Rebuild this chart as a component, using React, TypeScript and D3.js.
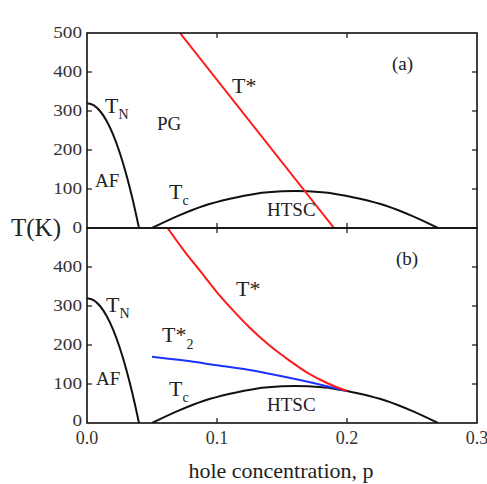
import React from "react";
import * as d3 from "d3";

// ---- data ----
const xTicks = [0.0, 0.1, 0.2, 0.3];
const xTickLabels = ["0.0", "0.1", "0.2", "0.3"];
const yTicksTop = [0, 100, 200, 300, 400, 500];
const yTicksBottom = [0, 100, 200, 300, 400];

// Neel temperature (both panels)
const tnP = [0, 0.005, 0.01, 0.015, 0.02, 0.025, 0.03, 0.035, 0.04];
const tnT = [320, 315, 300, 275, 240, 195, 140, 75, 0];

// Superconducting dome (both panels)
const tcP = [0.05, 0.07, 0.09, 0.11, 0.13, 0.15, 0.16, 0.17, 0.19, 0.21, 0.23, 0.25, 0.27];
const tcT = [0, 31, 57, 75, 88, 94, 95, 94, 88, 75, 57, 31, 0];

// T* panel (a): straight line
const tStarAP = [0.0715, 0.19];
const tStarAT = [500, 0];

// T* panel (b): curved
const tStarBP = [0.062, 0.075, 0.087, 0.1, 0.112, 0.125, 0.14, 0.155, 0.17, 0.185, 0.2];
const tStarBT = [500, 440, 390, 335, 290, 245, 200, 162, 128, 102, 82];

// T*2 panel (b)
const tStar2P = [0.05, 0.075, 0.1, 0.125, 0.15, 0.175, 0.2];
const tStar2T = [170, 160, 148, 136, 120, 102, 82];

const W = 487;
const H = 484;

export default function App() {
  const x = d3.scaleLinear().domain([0, 0.3]).range([87, 477]);
  const yA = d3.scaleLinear().domain([0, 500]).range([228, 33]);
  const yB = d3.scaleLinear().domain([0, 500]).range([423, 228]);

  const mk = (ys: d3.ScaleLinear<number, number>, ps: number[], ts: number[], curve: any) =>
    d3
      .line<number>()
      .x((_, i) => x(ps[i]))
      .y((_, i) => ys(ts[i]))
      .curve(curve)(ps) as string;

  const serif = "'Liberation Serif', 'DejaVu Serif', serif";
  const tickLen = 5;
  const axisCol = "#111";
  const labCol = "#333";

  const panel = (ys: d3.ScaleLinear<number, number>, yTicks: number[], key: string) => {
    const [y0, y1] = [ys(0), ys(500)];
    return (
      <g key={key}>
        {yTicks
          .filter((t) => t > 0 && t < 500)
          .map((t) => (
            <g key={"yt" + t}>
              <line x1={x(0)} x2={x(0) + tickLen} y1={ys(t)} y2={ys(t)} stroke={axisCol} strokeWidth={1.2} />
              <line x1={x(0.3)} x2={x(0.3) - tickLen} y1={ys(t)} y2={ys(t)} stroke={axisCol} strokeWidth={1.2} />
            </g>
          ))}
        {xTicks
          .filter((t) => t > 0 && t < 0.3)
          .map((t) => (
            <g key={"xt" + t}>
              <line x1={x(t)} x2={x(t)} y1={y1} y2={y1 + tickLen} stroke={axisCol} strokeWidth={1.2} />
              <line x1={x(t)} x2={x(t)} y1={y0} y2={y0 - tickLen} stroke={axisCol} strokeWidth={1.2} />
            </g>
          ))}
        {yTicks.map((t) => (
          <g key={"yl" + t} transform={`translate(${x(0) - 5},${ys(t) + (key === "b" && t === 0 ? -2 : 0)}) scale(1.2,1)`}>
            <text
              x={0}
              y={0}
              textAnchor="end"
              dominantBaseline="central"
              fontFamily={serif}
              fontSize={16}
              fill={labCol}
            >
              {t}
            </text>
          </g>
        ))}
        <rect x={x(0)} y={y1} width={x(0.3) - x(0)} height={y0 - y1} fill="none" stroke={axisCol} strokeWidth={1.6} />
      </g>
    );
  };

  return (
    <svg width={W} height={H} style={{ position: "absolute", left: 0, top: 0, background: "#fff" }}>
      <rect width={W} height={H} fill="#fff" />
      <defs>
        <clipPath id="clipA">
          <rect x={x(0)} y={yA(500)} width={x(0.3) - x(0)} height={yA(0) - yA(500)} />
        </clipPath>
        <clipPath id="clipB">
          <rect x={x(0)} y={yB(500)} width={x(0.3) - x(0)} height={yB(0) - yB(500)} />
        </clipPath>
      </defs>

      <g clipPath="url(#clipA)" fill="none" strokeWidth={2}>
        <path d={mk(yA, tnP, tnT, d3.curveMonotoneX)} stroke="#111" />
        <path d={mk(yA, tcP, tcT, d3.curveMonotoneX)} stroke="#111" />
        <path d={mk(yA, tStarAP, tStarAT, d3.curveLinear)} stroke="#ff1a1a" />
      </g>
      <g clipPath="url(#clipB)" fill="none" strokeWidth={2}>
        <path d={mk(yB, tnP, tnT, d3.curveMonotoneX)} stroke="#111" />
        <path d={mk(yB, tcP, tcT, d3.curveMonotoneX)} stroke="#111" />
        <path d={mk(yB, tStar2P, tStar2T, d3.curveMonotoneX)} stroke="#1a33ff" />
        <path d={mk(yB, tStarBP, tStarBT, d3.curveMonotoneX)} stroke="#ff1a1a" />
      </g>

      {panel(yA, yTicksTop, "a")}
      {panel(yB, yTicksBottom, "b")}

      {xTicks.map((t, i) => (
        <text key={"xl" + t} x={x(t)} y={444} textAnchor="middle" fontFamily={serif} fontSize={18} fill={labCol}>
          {xTickLabels[i]}
        </text>
      ))}

      <text x={281} y={478} textAnchor="middle" fontFamily={serif} fontSize={22} fill="#222">
        hole concentration, p
      </text>
      <text x={11} y={236} fontFamily={serif} fontSize={25} fill="#222">
        T(K)
      </text>

      <g fontFamily={serif} fill="#222">
        <text x={392} y={70} fontSize={19}>(a)</text>
        <text x={105} y={113} fontSize={22}>T<tspan fontSize={14} dy={6}>N</tspan></text>
        <text x={157} y={130} fontSize={19}>PG</text>
        <text x={95} y={187} fontSize={19}>AF</text>
        <text x={169} y={199} fontSize={22}>T<tspan fontSize={14} dy={6}>c</tspan></text>
        <text x={267} y={216} fontSize={19}>HTSC</text>
        <text x={232} y={93} fontSize={22}>T*</text>

        <text x={396} y={265} fontSize={19}>(b)</text>
        <text x={106} y={312} fontSize={22}>T<tspan fontSize={14} dy={6}>N</tspan></text>
        <text x={96} y={385} fontSize={19}>AF</text>
        <text x={169} y={396} fontSize={22}>T<tspan fontSize={14} dy={6}>c</tspan></text>
        <text x={267} y={411} fontSize={19}>HTSC</text>
        <text x={236} y={296} fontSize={22}>T*</text>
        <text x={162} y={342} fontSize={22}>T*<tspan fontSize={14} dy={7}>2</tspan></text>
      </g>
    </svg>
  );
}
